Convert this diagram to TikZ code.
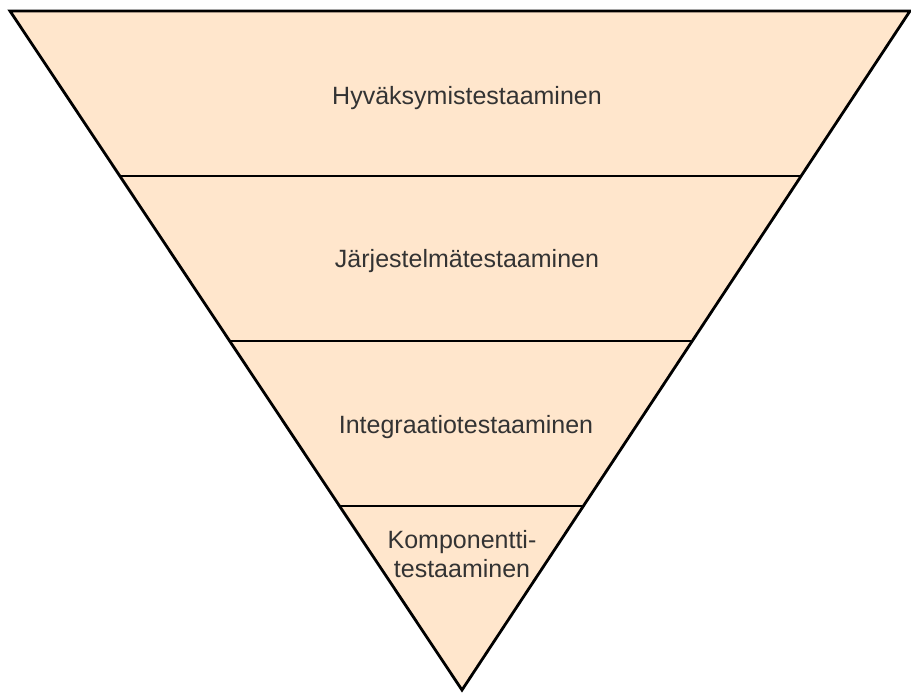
\documentclass[tikz,border=0pt]{standalone}
\usepackage{fontspec}
\setmainfont{Liberation Sans}
\usetikzlibrary{calc}
\definecolor{bandfill}{HTML}{FFE6CC}
\definecolor{labeltext}{HTML}{333333}
\begin{document}
\begin{tikzpicture}[x=1pt,y=-1pt,
  band/.style={fill=bandfill,draw=black,line width=2.8pt,line join=miter},
  divider/.style={draw=black,line width=2.8pt},
  lbl/.style={text=labeltext,font=\fontsize{25}{29}\selectfont,align=center,inner sep=0pt,anchor=base}]
\useasboundingbox (0,0) rectangle (911,693);
% corners of the inverted triangle
\coordinate (tl) at (10,11);
\coordinate (tr) at (910,11);
\coordinate (apex) at (462,690);
\filldraw[band] (tl) -- (tr) -- (apex) -- cycle;
% level dividers
\foreach \y/\n in {176/a,341/b,506/c}{
  \coordinate (L\n) at ($(tl)!{(\y-11)/679}!(apex)$);
  \coordinate (R\n) at ($(tr)!{(\y-11)/679}!(apex)$);
  \draw[divider] (L\n) -- (R\n);
}
\node[lbl] (hyv) at (467,104) {Hyväksymistestaaminen};
\node[lbl] (jar) at (467,267) {Järjestelmätestaaminen};
\node[lbl] (int) at (466,433) {Integraatiotestaaminen};
\node[lbl] (komp) at (462,577) {Komponentti-\\testaaminen};
\end{tikzpicture}
\end{document}
